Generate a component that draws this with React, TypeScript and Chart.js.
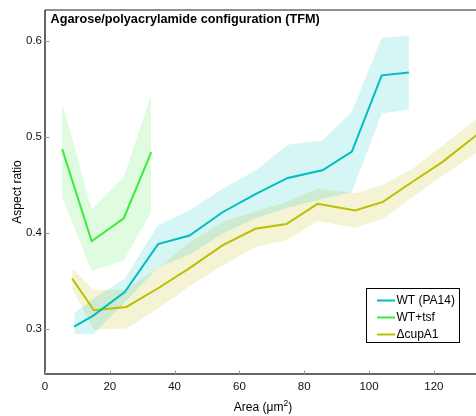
import React, { useEffect, useRef } from "react";
import { Chart, registerables } from "chart.js";
Chart.register(...registerables);

// ---- data ----
const wtX = [9.0, 14.9, 24.6, 34.9, 44.6, 54.9, 65.1, 74.9, 85.6, 94.7, 103.9, 112.3];
const wtY = [0.302, 0.3135, 0.338, 0.388, 0.397, 0.4215, 0.4405, 0.457, 0.465, 0.4845, 0.564, 0.567];
const wtHi = [0.316, 0.331, 0.352, 0.408, 0.423, 0.446, 0.465, 0.4915, 0.496, 0.526, 0.603, 0.6055];
const wtLo = [0.294, 0.294, 0.327, 0.364, 0.377, 0.399, 0.415, 0.426, 0.435, 0.442, 0.5245, 0.528];

const tsfX = [5.3, 14.4, 24.3, 32.8];
const tsfY = [0.487, 0.391, 0.415, 0.484];
const tsfHi = [0.536, 0.424, 0.458, 0.544];
const tsfLo = [0.437, 0.36, 0.371, 0.422];

const cupX = [8.4, 15.1, 25.1, 34.9, 44.6, 54.9, 64.9, 74.5, 84.1, 95.7, 104.3, 113.4, 122.6, 134.0];
const cupY = [0.352, 0.319, 0.3225, 0.342, 0.363, 0.387, 0.404, 0.409, 0.43, 0.423, 0.432, 0.453, 0.4735, 0.504];
const cupHi = [0.363, 0.34, 0.341, 0.363, 0.39, 0.411, 0.422, 0.432, 0.446, 0.441, 0.45, 0.4665, 0.4905, 0.521];
const cupLo = [0.341, 0.299, 0.3, 0.321, 0.344, 0.366, 0.385, 0.392, 0.412, 0.405, 0.4145, 0.437, 0.459, 0.485];

const xTicks = [0, 20, 40, 60, 80, 100, 120];
const yTicks = [0.3, 0.4, 0.5, 0.6];

const seriesNames = ["WT (PA14)", "WT+tsf", "\u0394cupA1"];
const seriesColors = ["rgb(0,190,190)", "rgb(60,235,60)", "rgb(190,190,0)"];
const bandColors = ["rgba(0,190,190,0.16)", "rgba(60,235,60,0.16)", "rgba(190,190,0,0.17)"];

const titleText = "Agarose/polyacrylamide configuration (TFM)";
const yTitle = "Aspect ratio";

const FONT = "'Liberation Sans', Arial, Helvetica, sans-serif";

const pts = (xs: number[], ys: number[]) => xs.map((x, i) => ({ x, y: ys[i] }));

const overlay = {
  id: "overlay",
  afterDraw(chart: any) {
    const ctx = chart.ctx as CanvasRenderingContext2D;
    const { left, right, top, bottom } = chart.chartArea;
    const xs = chart.scales.x;
    const ys = chart.scales.y;
    ctx.save();
    // top border
    ctx.strokeStyle = "#6a6a6a";
    ctx.lineWidth = 1.5;
    ctx.beginPath();
    ctx.moveTo(left, top);
    ctx.lineTo(right + 2, top);
    ctx.stroke();
    // axes
    ctx.strokeStyle = "#333";
    ctx.beginPath();
    ctx.moveTo(left, top);
    ctx.lineTo(left, bottom);
    ctx.lineTo(right + 2, bottom);
    ctx.stroke();
    // inward ticks
    ctx.strokeStyle = "#999";
    ctx.lineWidth = 1;
    for (const v of yTicks) {
      const y = Math.round(ys.getPixelForValue(v)) + 0.5;
      ctx.beginPath();
      ctx.moveTo(left, y);
      ctx.lineTo(left + 4.5, y);
      ctx.stroke();
    }
    for (const v of xTicks) {
      const x = Math.round(xs.getPixelForValue(v)) + 0.5;
      ctx.beginPath();
      ctx.moveTo(x, bottom);
      ctx.lineTo(x, bottom - 3.5);
      ctx.stroke();
    }
    // title
    ctx.fillStyle = "#000";
    ctx.font = `bold 12.7px ${FONT}`;
    ctx.textAlign = "left";
    ctx.textBaseline = "middle";
    ctx.fillText(titleText, 50.5, 19.5);
    // y title
    ctx.font = `12px ${FONT}`;
    ctx.save();
    ctx.translate(17.5, (top + bottom) / 2);
    ctx.rotate(-Math.PI / 2);
    ctx.textAlign = "center";
    ctx.textBaseline = "middle";
    ctx.fillText(yTitle, 0, 0);
    ctx.restore();
    // x title with superscript
    const p1 = "Area (\u03bcm";
    const p3 = ")";
    ctx.font = `12px ${FONT}`;
    const w1 = ctx.measureText(p1).width;
    const w3 = ctx.measureText(p3).width;
    ctx.font = `8.5px ${FONT}`;
    const w2 = ctx.measureText("2").width;
    const total = w1 + w2 + w3;
    let cx = 263 - total / 2;
    const by = 411;
    ctx.textAlign = "left";
    ctx.textBaseline = "alphabetic";
    ctx.font = `12px ${FONT}`;
    ctx.fillText(p1, cx, by);
    cx += w1;
    ctx.font = `8.5px ${FONT}`;
    ctx.fillText("2", cx, by - 5);
    cx += w2;
    ctx.font = `12px ${FONT}`;
    ctx.fillText(p3, cx, by);
    // legend
    const lx = 366.5, ly = 288.5, lw = 93, lh = 54;
    ctx.fillStyle = "#fff";
    ctx.fillRect(lx, ly, lw, lh);
    ctx.strokeStyle = "#000";
    ctx.lineWidth = 1;
    ctx.strokeRect(lx, ly, lw, lh);
    ctx.font = `12px ${FONT}`;
    ctx.textBaseline = "middle";
    seriesNames.forEach((name, i) => {
      const yy = 300.5 + i * 17;
      ctx.strokeStyle = seriesColors[i];
      ctx.lineWidth = 2;
      ctx.beginPath();
      ctx.moveTo(377, yy);
      ctx.lineTo(395, yy);
      ctx.stroke();
      ctx.fillStyle = "#000";
      ctx.fillText(name, 396.5, yy);
    });
    ctx.restore();
  },
};

export default function App() {
  const ref = useRef<HTMLCanvasElement>(null);
  useEffect(() => {
    const band = (xs: number[], hi: number[], lo: number[], color: string) => [
      {
        data: pts(xs, hi),
        borderColor: "rgba(0,0,0,0)",
        borderWidth: 0,
        pointRadius: 0,
        fill: "+1",
        backgroundColor: color,
      },
      {
        data: pts(xs, lo),
        borderColor: "rgba(0,0,0,0)",
        borderWidth: 0,
        pointRadius: 0,
        fill: false,
      },
    ];
    const line = (xs: number[], ys: number[], color: string) => ({
      data: pts(xs, ys),
      borderColor: color,
      borderWidth: 2,
      pointRadius: 0,
      fill: false,
    });
    const chart = new Chart(ref.current!, {
      type: "line",
      data: {
        datasets: [
          line(wtX, wtY, seriesColors[0]),
          line(tsfX, tsfY, seriesColors[1]),
          line(cupX, cupY, seriesColors[2]),
          ...band(wtX, wtHi, wtLo, bandColors[0]),
          ...band(tsfX, tsfHi, tsfLo, bandColors[1]),
          ...band(cupX, cupHi, cupLo, bandColors[2]),
        ] as any,
      },
      options: {
        animation: false,
        responsive: false,
        maintainAspectRatio: false,
        layout: { padding: { top: 8, right: 0, left: 0, bottom: 0 } },
        plugins: {
          legend: { display: false },
          tooltip: { enabled: false },
          filler: { drawTime: "beforeDatasetsDraw" } as any,
        },
        scales: {
          x: {
            type: "linear",
            min: 0,
            max: 133,
            afterBuildTicks: (s: any) => {
              s.ticks = xTicks.map((v) => ({ value: v }));
            },
            afterFit: (s: any) => {
              s.height = 42;
            },
            grid: { display: false, drawTicks: false },
            border: { display: false },
            ticks: {
              padding: 6,
              autoSkip: false,
              maxRotation: 0,
              color: "#111",
              font: { family: FONT, size: 11.5 },
              callback: (v: any) => String(v),
            },
          },
          y: {
            type: "linear",
            min: 0.2526,
            max: 0.6322,
            afterBuildTicks: (s: any) => {
              s.ticks = yTicks.map((v) => ({ value: v }));
            },
            afterFit: (s: any) => {
              s.width = 45;
            },
            grid: { display: false, drawTicks: false },
            border: { display: false },
            ticks: {
              padding: 3,
              color: "#111",
              font: { family: FONT, size: 11.5 },
              callback: (v: any) => Number(v).toFixed(1),
            },
          },
        },
      },
      plugins: [overlay],
    });
    return () => chart.destroy();
  }, []);
  return (
    <div
      style={{
        position: "fixed",
        left: 0,
        top: 0,
        width: 476,
        height: 416,
        overflow: "hidden",
        background: "#fff",
      }}
    >
      <canvas ref={ref} width={476} height={416} style={{ display: "block", width: 476, height: 416 }} />
    </div>
  );
}
